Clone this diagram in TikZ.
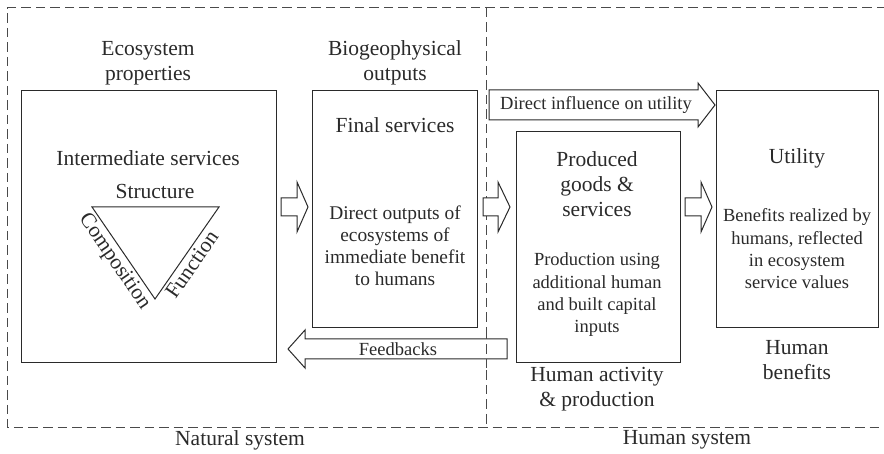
\documentclass[tikz,border=0pt]{standalone}
\usepackage{fontspec}
\setmainfont{Liberation Serif}
\definecolor{ink}{HTML}{2A2A2A}
\definecolor{dashc}{HTML}{4A4A4A}
\tikzset{
  boxstyle/.style={draw=ink, line width=1.1pt},
  blockarrow/.style={draw=ink, line width=1pt, fill=white, line join=miter},
  frame/.style={draw=dashc, line width=1pt, dash pattern=on 9.5pt off 5pt},
  headtext/.style={text=ink, align=center, font=\fontsize{21.5}{25}\selectfont, inner sep=0pt},
  bodytext/.style={text=ink, align=center, font=\fontsize{19.4}{22}\selectfont, inner sep=0pt},
  smalltext/.style={text=ink, align=center, font=\fontsize{18.5}{22.3}\selectfont, inner sep=0pt},
}
\begin{document}
\begin{tikzpicture}[x=1pt,y=-1pt]
\useasboundingbox (0,0) rectangle (884,454);
% frame
\draw[frame] (886,8) -- (7,8) -- (7,427) -- (886,427);
\draw[frame] (486,8) -- (486,427);
\node[headtext] (natlbl) at (240,440) {Natural system};
\node[headtext] (humlbl) at (687,440) {Human system};

% boxes
\node[boxstyle, minimum width=255pt, minimum height=272pt, anchor=north west] (eco) at (21,90) {};
\node[boxstyle, minimum width=165pt, minimum height=237pt, anchor=north west] (fin) at (312,90) {};
\node[boxstyle, minimum width=164pt, minimum height=231pt, anchor=north west] (prod) at (516,131) {};
\node[boxstyle, minimum width=162pt, minimum height=237pt, anchor=north west] (util) at (716,90) {};

% labels above / below boxes
\node[headtext] (ecolbl) at (148,63) {Ecosystem\\properties};
\node[headtext] (biolbl) at (395,63) {Biogeophysical\\outputs};
\node[headtext] (actlbl) at (597,389) {Human activity\\\& production};
\node[headtext] (benlbl) at (797,360) {Human\\benefits};

% ecosystem box contents
\node[headtext] (inter) at (148,158) {Intermediate services};
\node[headtext] (struct) at (155,191) {Structure};
\coordinate (ta) at (92,207);
\coordinate (tb) at (219,207);
\coordinate (tc) at (155,299);
\draw[draw=ink, line width=1pt] (ta) -- (tb) -- (tc) -- cycle;
\path (ta) -- (tc) node[pos=0.52, below=3pt, sloped, headtext] (comp) {Composition};
\path (tc) -- (tb) node[pos=0.44, below=3pt, sloped, headtext] (func) {Function};

% final services contents
\node[headtext] (finhead) at (395,125) {Final services};
\node[bodytext] (finbody) at (395,246) {Direct outputs of\\ecosystems of\\immediate benefit\\to humans};

% produced contents
\node[headtext] (prodhead) at (597,184) {Produced\\goods \&\\services};
\node[smalltext] (prodbody) at (597,295) {Production using\\additional human\\and built capital\\inputs};

% utility contents
\node[headtext] (utilhead) at (797,158) {Utility};
\node[smalltext] (utilbody) at (797,249) {Benefits realized by\\humans, reflected\\in ecosystem\\service values};

% block arrows (right-pointing, centre y=207)
\draw[blockarrow] (281,198) -- (297,198) -- (297,182) -- (308,207) -- (297,232) -- (297,216) -- (281,216) -- cycle;
\draw[blockarrow] (483,198) -- (498,198) -- (498,182) -- (510,207) -- (498,232) -- (498,216) -- (483,216) -- cycle;
\draw[blockarrow] (685,198) -- (701,198) -- (701,182) -- (712,207) -- (701,232) -- (701,216) -- (685,216) -- cycle;
% direct influence arrow
\draw[blockarrow] (489,90) -- (698,90) -- (698,83) -- (715,105) -- (698,127) -- (698,120) -- (489,120) -- cycle;
\node[smalltext] (dirlbl) at (596,105) {Direct influence on utility};
% feedback arrow
\draw[blockarrow] (507,339) -- (305,339) -- (305,330) -- (288,349) -- (305,368) -- (305,359) -- (507,359) -- cycle;
\node[smalltext] (fblbl) at (398,349) {Feedbacks};
% redraw divider over feedback arrow
\draw[frame] (486,330) -- (486,368);
\end{tikzpicture}
\end{document}
